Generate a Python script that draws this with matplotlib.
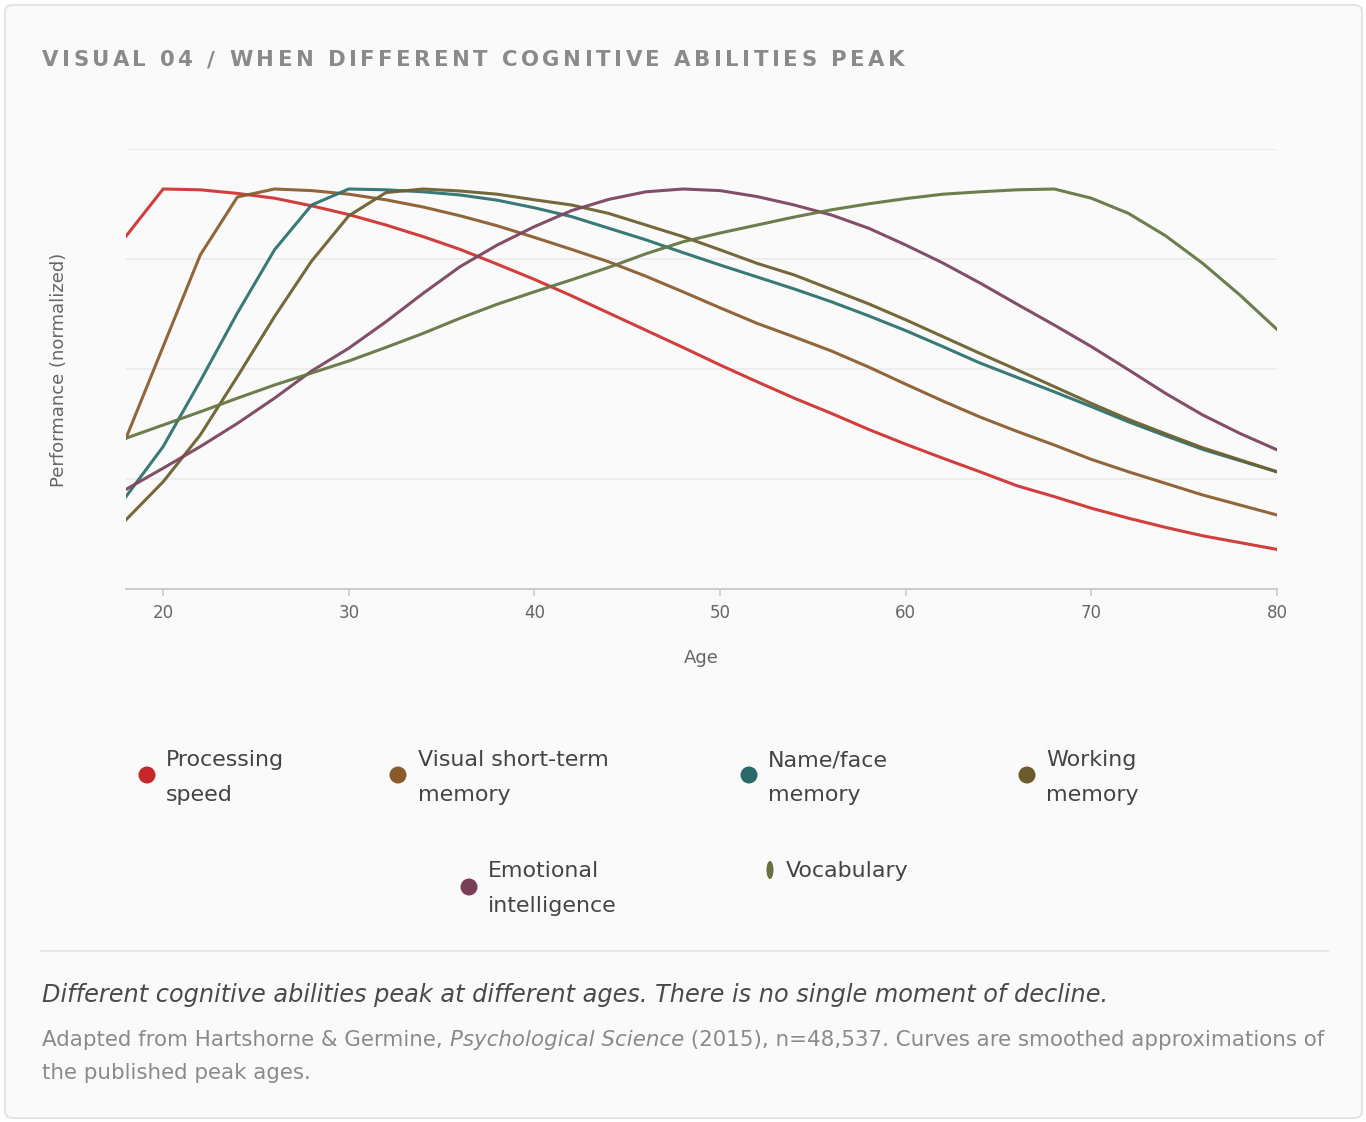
import matplotlib
matplotlib.use("Agg")
import matplotlib.pyplot as plt
from matplotlib.font_manager import FontProperties
from matplotlib.patches import FancyBboxPatch, Ellipse
from matplotlib.lines import Line2D

# ---------------- data ----------------
ages = [18, 20, 22, 24, 26, 28, 30, 32, 34, 36, 38, 40, 42, 44, 46, 48,
        50, 52, 54, 56, 58, 60, 62, 64, 66, 68, 70, 72, 74, 76, 78, 80]

processing_speed = [0.882, 1.000, 0.998, 0.989, 0.977, 0.958, 0.936, 0.910, 0.881, 0.849, 0.812, 0.774,
                    0.733, 0.690, 0.647, 0.604, 0.560, 0.518, 0.477, 0.439, 0.399, 0.362, 0.327, 0.293,
                    0.258, 0.231, 0.202, 0.177, 0.154, 0.133, 0.116, 0.099]
visual_stm = [0.377, 0.606, 0.835, 0.980, 1.000, 0.996, 0.987, 0.973, 0.955, 0.933, 0.908, 0.879,
              0.849, 0.818, 0.782, 0.743, 0.703, 0.664, 0.630, 0.595, 0.555, 0.512, 0.470, 0.430,
              0.394, 0.360, 0.324, 0.293, 0.264, 0.235, 0.210, 0.185]
name_face = [0.231, 0.356, 0.520, 0.690, 0.848, 0.960, 1.000, 0.998, 0.993, 0.985, 0.972, 0.953,
             0.931, 0.902, 0.873, 0.841, 0.810, 0.780, 0.750, 0.718, 0.683, 0.646, 0.606, 0.565,
             0.529, 0.493, 0.456, 0.418, 0.383, 0.349, 0.321, 0.293]
working_memory = [0.173, 0.268, 0.385, 0.531, 0.681, 0.820, 0.933, 0.991, 1.000, 0.995, 0.987, 0.973,
                  0.960, 0.939, 0.910, 0.881, 0.848, 0.814, 0.785, 0.749, 0.713, 0.673, 0.631, 0.589,
                  0.548, 0.506, 0.464, 0.424, 0.388, 0.353, 0.323, 0.293]
emotional = [0.249, 0.302, 0.356, 0.414, 0.477, 0.545, 0.602, 0.668, 0.739, 0.806, 0.860, 0.906,
             0.946, 0.974, 0.993, 1.000, 0.996, 0.981, 0.960, 0.935, 0.902, 0.860, 0.815, 0.765,
             0.712, 0.660, 0.606, 0.548, 0.489, 0.435, 0.389, 0.348]
vocabulary = [0.377, 0.410, 0.443, 0.477, 0.510, 0.540, 0.570, 0.604, 0.639, 0.677, 0.712, 0.743,
              0.773, 0.804, 0.838, 0.868, 0.890, 0.910, 0.930, 0.948, 0.963, 0.976, 0.987, 0.993,
              0.998, 1.000, 0.977, 0.939, 0.883, 0.814, 0.735, 0.649]

series_names = ["Processing speed", "Visual short-term memory", "Name/face memory",
                "Working memory", "Emotional intelligence", "Vocabulary"]
series_values = [processing_speed, visual_stm, name_face, working_memory, emotional, vocabulary]
legend_labels = [["Processing", "speed"], ["Visual short-term", "memory"], ["Name/face", "memory"],
                 ["Working", "memory"], ["Emotional", "intelligence"], ["Vocabulary"]]
x_ticks = [20, 30, 40, 50, 60, 70, 80]

title = "VISUAL 04 / WHEN DIFFERENT COGNITIVE ABILITIES PEAK"
caption = "Different cognitive abilities peak at different ages. There is no single moment of decline."
source_a = "Adapted from Hartshorne & Germine, "
source_b = "Psychological Science"
source_c = " (2015), n=48,537. Curves are smoothed approximations of"
source_d = "the published peak ages."

# ---------------- style ----------------
line_colors = ["#cf3434", "#8c5e30", "#2e7370", "#6e6030", "#7d4660", "#657645"]
dot_colors = ["#c62828", "#8b5a2b", "#2a6b69", "#6b5a2b", "#7a3f57", "#66733f"]

W, H = 1366, 1122
fig = plt.figure(figsize=(W / 100, H / 100), dpi=100)
fig.patch.set_facecolor("white")

def fx(px):
    return px / W

def fy(py):
    return 1 - py / H

# card
card = FancyBboxPatch((fx(5), fy(1118)), fx(1362) - fx(5), fy(5) - fy(1118),
                      boxstyle="round,pad=0,rounding_size=0.006",
                      transform=fig.transFigure, facecolor="#fafafa",
                      edgecolor="#e4e4e4", linewidth=1.5, zorder=0)
fig.add_artist(card)

# axes
ax = fig.add_axes([fx(126), fy(589), fx(1277) - fx(126), fy(149) - fy(589)])
ax.set_facecolor("none")
for vals, c in zip(series_values, line_colors):
    ax.plot(ages, vals, color=c, lw=2.2, alpha=0.95, solid_joinstyle="miter", zorder=3)

ax.set_xlim(18, 80)
ax.set_ylim(0, 1.1)
ax.set_yticks([0.275, 0.55, 0.825, 1.1])
ax.set_yticklabels([])
ax.tick_params(axis="y", length=0)
ax.grid(axis="y", color="#ebebeb", lw=1.2, zorder=0)
ax.set_xticks(x_ticks)
ax.set_xticklabels([str(t) for t in x_ticks])
ax.tick_params(axis="x", length=5, width=1.2, color="#cccccc", labelsize=12,
               labelcolor="#666666", pad=6)
for s in ["top", "right", "left"]:
    ax.spines[s].set_visible(False)
ax.spines["bottom"].set_color("#cccccc")
ax.spines["bottom"].set_linewidth(1.5)

fig.text(fx(701), fy(658), "Age", ha="center", va="center", fontsize=13, color="#666666")
fig.text(fx(59), fy(370), "Performance (normalized)", ha="center", va="center",
         rotation=90, fontsize=13, color="#666666")

renderer = fig.canvas.get_renderer()

def textw(s, fp):
    w, h, d = renderer.get_text_width_height_descent(s, fp, ismath=False)
    return w

# title with letter spacing
tfp = FontProperties(family="DejaVu Sans", weight="bold", size=15.3)
xw = textw("X", tfp)
full = textw(title, tfp)
span = 862
sp = (span - full) / (len(title) - 1)
for i, ch in enumerate(title):
    if ch == " ":
        continue
    off = textw("X" + title[:i] + "X", tfp) - 2 * xw if i > 0 else 0
    fig.text(fx(42 + off + i * sp), fy(66), ch, fontproperties=tfp, color="#8a8a8a",
             ha="left", va="baseline")

# legend
leg_fs = 15.9
dot_d = 17
rows = [
    (147, 775, 166, [766, 801]),
    (398, 775, 418, [766, 801]),
    (749, 775, 768, [766, 801]),
    (1027, 775, 1046, [766, 801]),
    (469, 887, 488, [877, 912]),
    (770, 870, 786, [877]),
]
for k, (dx, dy, tx, bls) in enumerate(rows):
    wdot = dot_d if k != 5 else 7
    hdot = dot_d if k != 5 else 18
    e = Ellipse((fx(dx), fy(dy)), wdot / W, hdot / H, transform=fig.transFigure,
                facecolor=dot_colors[k], edgecolor="none")
    fig.add_artist(e)
    for line, bl in zip(legend_labels[k], bls):
        fig.text(fx(tx), fy(bl), line, fontsize=leg_fs, color="#444444", ha="left", va="baseline")

# separator
fig.add_artist(Line2D([fx(41), fx(1328)], [fy(950.5), fy(950.5)], transform=fig.transFigure,
                      color="#e6e6e6", lw=1.5))

# caption
fig.text(fx(42), fy(1002), caption, fontsize=17.3, style="italic", color="#4a4a4a",
         ha="left", va="baseline")

# source (mixed styles)
sfp = FontProperties(family="DejaVu Sans", size=15.4)
sfpi = FontProperties(family="DejaVu Sans", size=15.4, style="italic")
x0 = 42
pieces = [(source_a, sfp), (source_b, sfpi), (source_c, sfp)]
for s, fp in pieces:
    fig.text(fx(x0), fy(1046.5), s, fontproperties=fp, color="#8a8a8a", ha="left", va="baseline")
    x0 += textw("X" + s + "X", fp) - 2 * textw("X", fp)
fig.text(fx(42), fy(1079), source_d, fontproperties=sfp, color="#8a8a8a", ha="left", va="baseline")

fig.savefig("out.png", dpi=100, facecolor="white")
